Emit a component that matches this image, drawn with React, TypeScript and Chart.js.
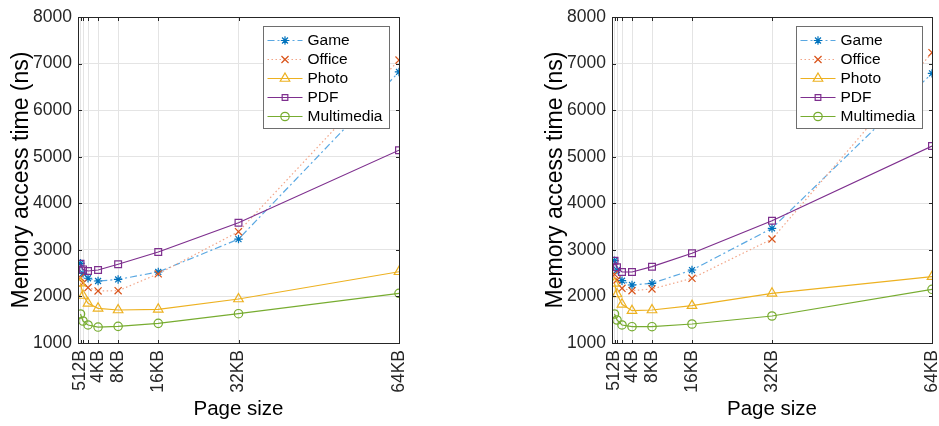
import React, { useEffect, useRef } from 'react';
import { Chart, registerables } from 'chart.js';
import { drawPoint } from 'chart.js/helpers';

Chart.register(...registerables);

// ---- data ----
const pageSizesKB = [0.5, 1, 2, 4, 8, 16, 32, 64];
const xTickLabels = ['512B', '', '', '4KB', '8KB', '16KB', '32KB', '64KB'];
const yMin = 1000;
const yMax = 8000;
const yStep = 1000;
const seriesNames = ['Game', 'Office', 'Photo', 'PDF', 'Multimedia'];

const leftGame = [2711, 2497, 2390, 2331, 2365, 2525, 3230, 6820];
const leftOffice = [2405, 2285, 2190, 2118, 2123, 2485, 3390, 7075];
const leftPhoto = [2285, 2020, 1852, 1745, 1709, 1724, 1945, 2530];
const leftPDF = [2700, 2580, 2546, 2567, 2690, 2954, 3583, 5140];
const leftMultimedia = [1623, 1472, 1387, 1343, 1358, 1422, 1629, 2067];

const rightGame = [2767, 2567, 2338, 2245, 2282, 2567, 3463, 6790];
const rightOffice = [2475, 2353, 2175, 2123, 2160, 2389, 3233, 7234];
const rightPhoto = [2282, 2052, 1831, 1694, 1709, 1802, 2067, 2424];
const rightPDF = [2767, 2625, 2525, 2525, 2639, 2926, 3626, 5230];
const rightMultimedia = [1623, 1494, 1387, 1350, 1350, 1408, 1580, 2153];

const yTitle = 'Memory access time (ns)';
const xTitle = 'Page size';

// ---- styles ----
const FONT = '"Liberation Sans", Arial, Helvetica, sans-serif';
const styles = [
  { marker: '#0072BD', line: '#5aa8e2', dash: [7, 3, 2, 3], pointStyle: 'star', radius: 4.2 },
  { marker: '#D95319', line: '#f2a588', dash: [1.5, 2.5], pointStyle: 'crossRot', radius: 5 },
  { marker: '#EDB120', line: '#EDB120', dash: [], pointStyle: 'triangle', radius: 5.5 },
  { marker: '#7E2F8E', line: '#7E2F8E', dash: [], pointStyle: 'rect', radius: 4.8 },
  { marker: '#77AC30', line: '#77AC30', dash: [], pointStyle: 'circle', radius: 4.2 },
];

const framePlugin = {
  id: 'frameAndLegend',
  afterDatasetsDraw(chart: any) {
    const { ctx, chartArea } = chart;
    const { left, right, top, bottom } = chartArea;
    const xs = chart.scales.x;
    const ys = chart.scales.y;
    ctx.save();
    ctx.strokeStyle = '#262626';
    ctx.lineWidth = 1;
    ctx.setLineDash([]);
    const L = Math.round(left) + 0.5;
    const R = Math.round(right) + 0.5;
    const T = Math.round(top) + 0.5;
    const B = Math.round(bottom) + 0.5;
    ctx.strokeRect(L, T, R - L, B - T);
    const tl = 3.5;
    ctx.beginPath();
    for (let v = yMin; v <= yMax; v += yStep) {
      const y = Math.round(ys.getPixelForValue(v)) + 0.5;
      ctx.moveTo(L, y); ctx.lineTo(L + tl, y);
      ctx.moveTo(R, y); ctx.lineTo(R - tl, y);
    }
    for (const v of pageSizesKB) {
      const x = Math.round(xs.getPixelForValue(v)) + 0.5;
      ctx.moveTo(x, B); ctx.lineTo(x, B - tl);
      ctx.moveTo(x, T); ctx.lineTo(x, T + tl);
    }
    ctx.stroke();

    // legend
    const w = 126, h = 102;
    const lx = Math.round(right - 10 - w) + 0.5;
    const ly = Math.round(top + 9) + 0.5;
    ctx.fillStyle = '#ffffff';
    ctx.fillRect(lx, ly, w, h);
    ctx.strokeStyle = '#6e6e6e';
    ctx.strokeRect(lx, ly, w, h);
    ctx.font = `15.5px ${FONT}`;
    ctx.textBaseline = 'middle';
    ctx.textAlign = 'left';
    chart.data.datasets.forEach((ds: any, i: number) => {
      const st = styles[i];
      const cy = ly + 14 + i * 19;
      ctx.strokeStyle = st.line;
      ctx.lineWidth = 1.2;
      ctx.setLineDash(st.dash);
      ctx.beginPath();
      ctx.moveTo(lx + 4, cy);
      ctx.lineTo(lx + 39, cy);
      ctx.stroke();
      ctx.setLineDash([]);
      ctx.strokeStyle = st.marker;
      ctx.fillStyle = 'rgba(0,0,0,0)';
      ctx.lineWidth = 1.2;
      drawPoint(ctx, { pointStyle: st.pointStyle, radius: st.pointStyle === 'rect' ? 4 : st.radius, rotation: 0, borderWidth: 1.2 } as any, lx + 21.5, cy);
      ctx.fillStyle = '#000000';
      ctx.fillText(ds.label, lx + 44, cy + 0.5);
    });
    ctx.restore();
  },
};

function makeConfig(values: number[][], padRight: number): any {
  return {
    type: 'line',
    data: {
      datasets: values.map((vals, i) => ({
        label: seriesNames[i],
        data: pageSizesKB.map((x, j) => ({ x, y: vals[j] })),
        borderColor: styles[i].line,
        borderWidth: 1.2,
        borderDash: styles[i].dash,
        pointStyle: styles[i].pointStyle,
        pointRadius: styles[i].radius,
        pointBorderColor: styles[i].marker,
        pointBackgroundColor: 'rgba(0,0,0,0)',
        pointBorderWidth: 1.2,
        fill: false,
        tension: 0,
        order: values.length - i,
      })),
    },
    options: {
      responsive: false,
      animation: false,
      devicePixelRatio: 1,
      layout: { padding: { left: 0, right: padRight, top: 17, bottom: 0 } },
      plugins: { legend: { display: false }, tooltip: { enabled: false } },
      scales: {
        x: {
          type: 'linear',
          min: 0,
          max: 64,
          afterBuildTicks: (s: any) => { s.ticks = pageSizesKB.map((v) => ({ value: v })); },
          afterFit: (s: any) => { s.height = 83; s.paddingLeft = 0; s.paddingRight = 0; },
          ticks: {
            autoSkip: false,
            minRotation: 90,
            maxRotation: 90,
            padding: 7,
            color: '#262626',
            font: { family: FONT, size: 17.5 },
            callback: (_v: any, idx: number) => xTickLabels[idx],
          },
          grid: { color: '#e4e4e4', drawTicks: false, lineWidth: 1 },
          border: { display: false },
          title: {
            display: true,
            text: xTitle,
            color: '#000000',
            font: { family: FONT, size: 20.5 },
            padding: { top: 0, bottom: 4 },
          },
        },
        y: {
          type: 'linear',
          min: yMin,
          max: yMax,
          afterFit: (s: any) => { s.width = 78; s.paddingTop = 0; s.paddingBottom = 0; },
          ticks: {
            stepSize: yStep,
            padding: 6,
            color: '#262626',
            font: { family: FONT, size: 17.5 },
            callback: (v: any) => String(v),
          },
          grid: { color: '#e4e4e4', drawTicks: false, lineWidth: 1 },
          border: { display: false },
          title: {
            display: true,
            text: yTitle,
            color: '#000000',
            font: { family: FONT, size: 23 },
            padding: { top: 8, bottom: 0 },
          },
        },
      },
    },
    plugins: [framePlugin],
  };
}

function Panel({ values, left, width, padRight }: { values: number[][]; left: number; width: number; padRight: number }) {
  const ref = useRef<HTMLCanvasElement>(null);
  useEffect(() => {
    if (!ref.current) return;
    const chart = new Chart(ref.current, makeConfig(values, padRight));
    return () => chart.destroy();
  }, []);
  return (
    <canvas
      ref={ref}
      width={width}
      height={426}
      style={{ position: 'absolute', left, top: 0, width, height: 426 }}
    />
  );
}

export default function App() {
  return (
    <div style={{ position: 'absolute', left: 0, top: 0, width: 939, height: 426, overflow: 'hidden', background: '#ffffff' }}>
      <Panel values={[leftGame, leftOffice, leftPhoto, leftPDF, leftMultimedia]} left={0} width={469} padRight={70} />
      <Panel values={[rightGame, rightOffice, rightPhoto, rightPDF, rightMultimedia]} left={534} width={405} padRight={7} />
    </div>
  );
}
